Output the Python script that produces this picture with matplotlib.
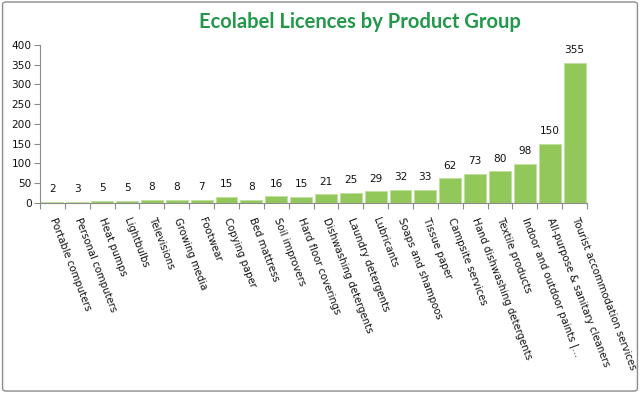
import matplotlib
matplotlib.use("Agg")
import matplotlib.pyplot as plt
from matplotlib.patches import FancyBboxPatch
import numpy as np

categories = [
    "Portable computers", "Personal computers", "Heat pumps", "Lightbulbs",
    "Televisions", "Growing media", "Footwear", "Copying paper", "Bed mattress",
    "Soil improvers", "Hard floor coverings", "Dishwashing detergents",
    "Laundry detergents", "Lubricants", "Soaps and shampoos", "Tissue paper",
    "Campsite services", "Hand dishwashing detergents", "Textile products",
    "Indoor and outdoor paints |...", "All-purpose & sanitary cleaners",
    "Tourist accommodation services",
]
licences = [2, 3, 5, 5, 8, 8, 7, 15, 8, 16, 15, 21, 25, 29, 32, 33, 62, 73, 80, 98, 150, 355]
y_ticks = [0, 50, 100, 150, 200, 250, 300, 350, 400]
title = "Ecolabel Licences by Product Group"

fig = plt.figure(figsize=(6.4, 3.93), dpi=100)
fig.patch.set_facecolor("white")
border = FancyBboxPatch((0.004, 0.005), 0.992, 0.99, boxstyle="round,pad=0,rounding_size=0.006",
                        transform=fig.transFigure, fill=False, edgecolor="#8c8c8c", linewidth=1.0)
fig.patches.append(border)

ax = fig.add_axes([40/640, 1-202.7/393, 547/640, 157.7/393])
x = np.arange(len(categories))
ax.bar(x, licences, width=0.88, color="#92C85A", edgecolor="#BFE0A0", linewidth=0.7, zorder=2)

ax.set_xlim(-0.5, len(categories)-0.5)
ax.set_ylim(0, 400)
ax.set_yticks(y_ticks)
ax.set_yticklabels([str(v) for v in y_ticks], fontsize=7.6, family="DejaVu Sans", color="#111111")

for xi, v in zip(x, licences):
    ax.annotate(str(v), (xi, v), xytext=(0, 5.5), textcoords="offset points",
                ha="center", va="bottom", fontsize=7.6, family="DejaVu Sans", color="#111111")

ax.set_xticks(x)
ax.set_xticklabels(categories, rotation=-69, ha="left", va="center", rotation_mode="anchor",
                   fontsize=7.3, family="DejaVu Sans", color="#111111")
ax.tick_params(axis="x", which="major", length=0, pad=11)
ax.set_xticks(np.arange(-0.5, len(categories), 1.0), minor=True)
ax.tick_params(axis="x", which="minor", length=4, color="#8c8c8c", width=0.8, direction="out")
ax.tick_params(axis="y", length=4, color="#8c8c8c", width=0.8, direction="out", pad=2)

for s in ["top", "right"]:
    ax.spines[s].set_visible(False)
for s in ["left", "bottom"]:
    ax.spines[s].set_color("#8c8c8c")
    ax.spines[s].set_linewidth(0.8)

fig.text(360/640, 1-22/393, title, ha="center", va="center", fontsize=14.5,
         family="Lato", fontweight="bold", color="#23984A")

fig.savefig("out.png", dpi=100)
